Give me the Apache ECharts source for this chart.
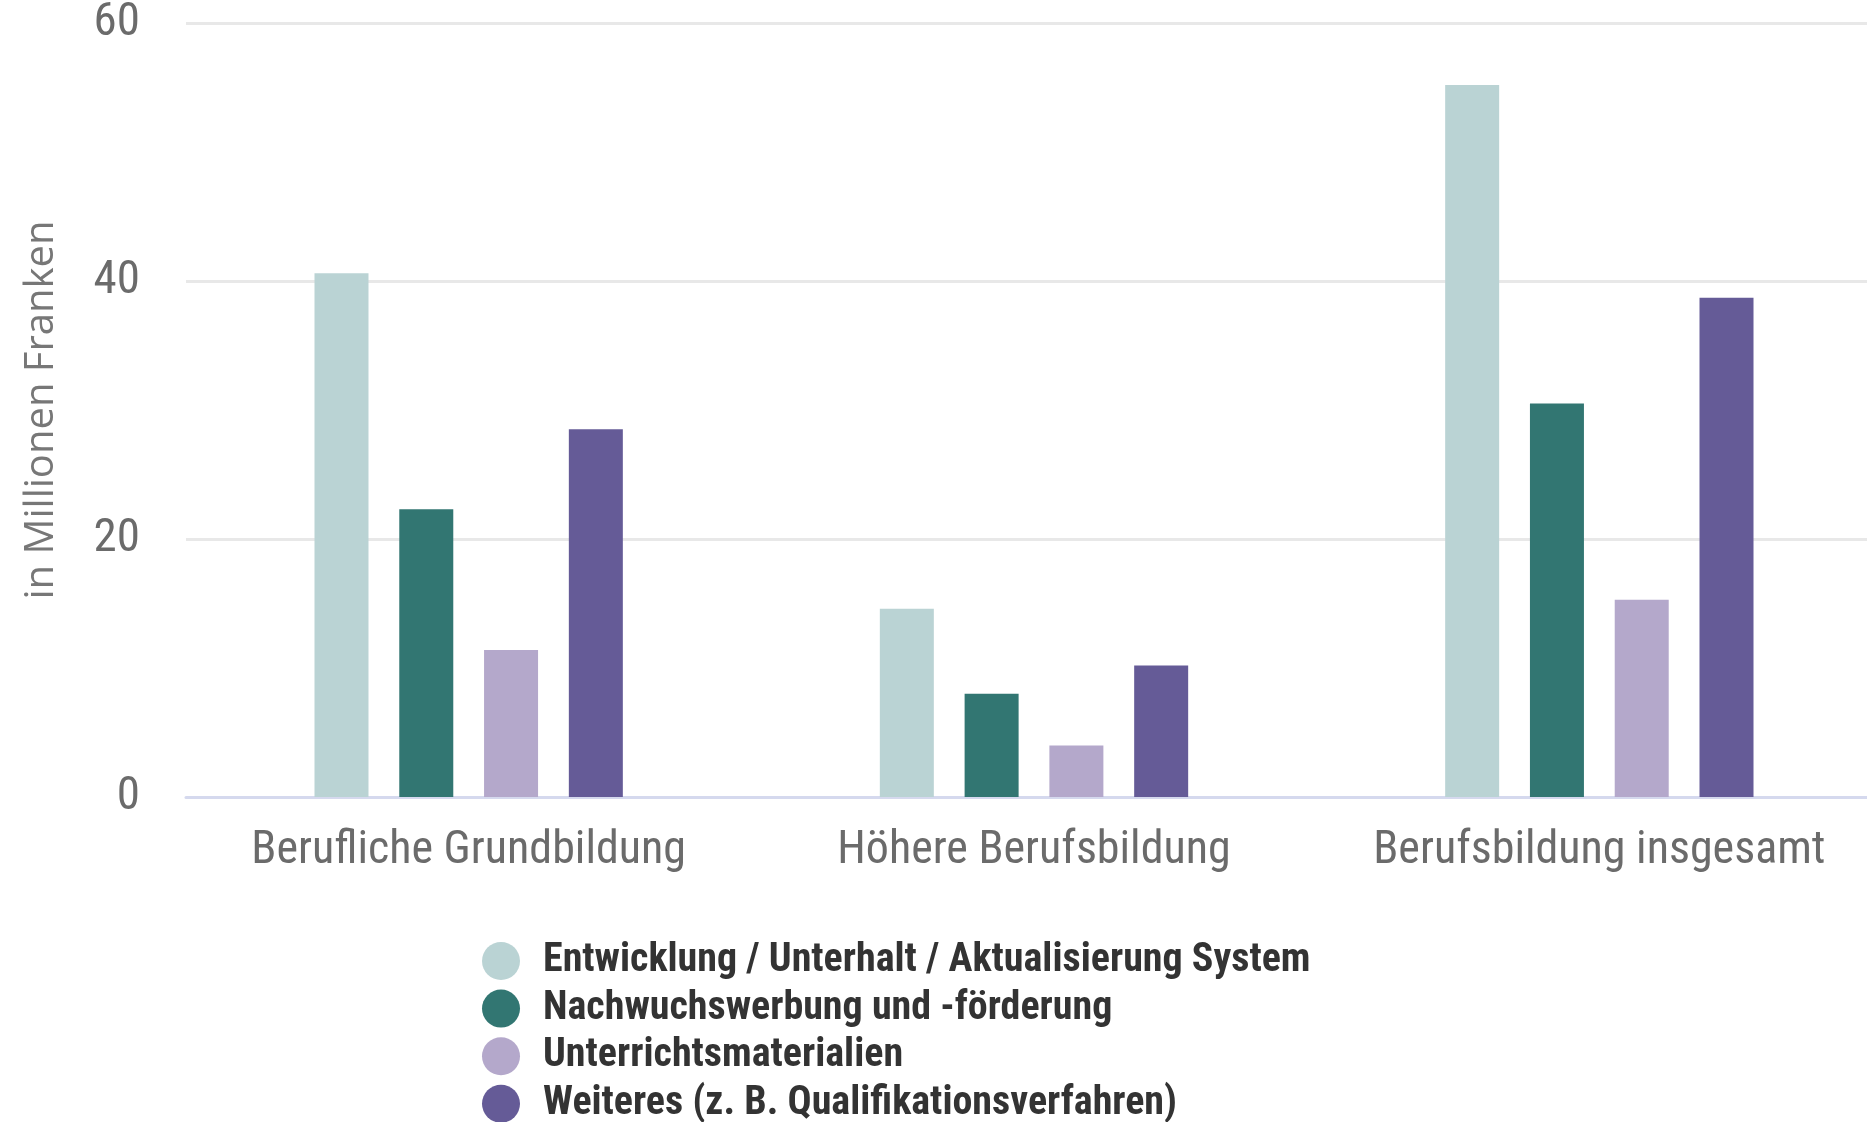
<!DOCTYPE html>
<html>
<head>
<meta charset="utf-8">
<script src="https://cdn.jsdelivr.net/npm/echarts@6/dist/echarts.min.js"></script>
<style>
html,body{margin:0;padding:0;background:#fff;}
#chart{width:1867px;height:1122px;}
</style>
</head>
<body>
<div id="chart"></div>
<script>
const categories = ['Berufliche Grundbildung', 'Höhere Berufsbildung', 'Berufsbildung insgesamt'];
const seriesNames = [
  'Entwicklung / Unterhalt / Aktualisierung System',
  'Nachwuchswerbung und -förderung',
  'Unterrichtsmaterialien',
  'Weiteres (z. B. Qualifikationsverfahren)'
];
const entwicklung = [40.6, 14.6, 55.2];
const nachwuchs = [22.3, 8.0, 30.5];
const unterricht = [11.4, 4.0, 15.3];
const weiteres = [28.5, 10.2, 38.7];
const colors = ['#bad3d4', '#327672', '#b4a8cb', '#655b97'];
const yMin = 0, yMax = 60, yInterval = 20;
const yAxisName = 'in Millionen Franken';

const condensed = '"Roboto Condensed", "Liberation Sans Narrow", "Roboto", sans-serif';
const dataSets = [entwicklung, nachwuchs, unterricht, weiteres];

const chart = echarts.init(document.getElementById('chart'));
chart.setOption({
  animation: false,
  backgroundColor: '#ffffff',
  grid: { left: 186, top: 23, width: 1696, height: 774, containLabel: false, outerBoundsMode: 'none' },
  legend: {
    orient: 'vertical',
    left: 482,
    top: 941,
    height: 260,
    padding: 0,
    icon: 'circle',
    itemWidth: 38,
    itemHeight: 38,
    itemGap: 7.6,
    textStyle: {
      fontFamily: condensed,
      fontWeight: 'bold',
      fontSize: 40,
      color: '#333333',
      padding: [0, 0, 0, 18]
    },
    data: seriesNames
  },
  xAxis: {
    type: 'category',
    data: categories,
    axisLine: { show: true, lineStyle: { color: '#d5d9ee', width: 3 } },
    axisTick: { show: false },
    axisLabel: {
      interval: 0,
      fontFamily: condensed,
      fontSize: 46,
      color: '#6b6b6b',
      margin: 31
    }
  },
  yAxis: {
    type: 'value',
    min: yMin,
    max: yMax,
    interval: yInterval,
    name: yAxisName,
    nameLocation: 'middle',
    nameGap: 124,
    nameTextStyle: {
      fontFamily: '"Open Sans", "Noto Sans", sans-serif',
      fontSize: 40,
      color: '#777777'
    },
    axisLine: { show: false },
    axisTick: { show: false },
    axisLabel: {
      fontFamily: condensed,
      fontSize: 47,
      color: '#6b6b6b',
      margin: 46,
      padding: [10, 0, 0, 0]
    },
    splitLine: { lineStyle: { color: '#e8e8e8', width: 3 } }
  },
  series: seriesNames.map((name, i) => ({
    name: name,
    type: 'bar',
    data: dataSets[i],
    barWidth: 54,
    barGap: '57%',
    itemStyle: { color: colors[i] }
  }))
});
</script>
</body>
</html>
